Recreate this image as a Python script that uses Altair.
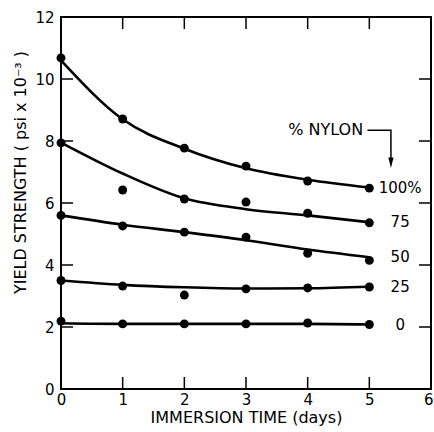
import altair as alt
import pandas as pd

# Immersion time (days) at which specimens were tested
days = [0, 1, 2, 3, 4, 5]

# Nylon content of each series and the label drawn at its right end
series = ["100%", "75", "50", "25", "0"]

# Measured yield strength (psi x 10^-3)
measured = {
    "100%": [10.68, 8.71, 7.77, 7.19, 6.71, 6.48],
    "75": [7.94, 6.42, 6.13, 6.03, 5.67, 5.36],
    "50": [5.60, 5.26, 5.06, 4.90, 4.38, 4.15],
    "25": [3.50, 3.32, 3.03, 3.23, 3.26, 3.29],
    "0": [2.19, 2.10, 2.10, 2.10, 2.13, 2.08],
}

# Smoothed trend curves through each series
trend = {
    "100%": [10.60, 8.70, 7.75, 7.12, 6.75, 6.50],
    "75": [7.95, 6.95, 6.15, 5.80, 5.60, 5.38],
    "50": [5.60, 5.30, 5.06, 4.80, 4.50, 4.25],
    "25": [3.50, 3.36, 3.28, 3.24, 3.25, 3.30],
    "0": [2.12, 2.10, 2.10, 2.10, 2.10, 2.08],
}

# Axis tick values
x_ticks = [0, 1, 2, 3, 4, 5, 6]
y_ticks = [0, 2, 4, 6, 8, 10, 12]
x_inner_ticks = [1, 2, 3, 4, 5]
y_inner_ticks = [2, 4, 6, 8, 10]

# "% NYLON" key with its bent arrow
key_text = "% NYLON"
key_pos = [4.9, 8.35]
arrow_x = [4.97, 5.35, 5.35]
arrow_y = [8.35, 8.35, 7.45]
arrow_tip = [5.35, 7.3]
label_x = 5.5

FONT = "DejaVu Sans"
W, H = 370, 372

pts = pd.DataFrame(
    [{"day": d, "ys": v, "s": s} for s in series for d, v in zip(days, measured[s])]
)
crv = pd.DataFrame(
    [{"day": d, "ys": v, "s": s} for s in series for d, v in zip(days, trend[s])]
)
lab = pd.DataFrame([{"day": label_x, "ys": trend[s][-1], "s": s} for s in series])

xs = alt.Scale(domain=[0, 6], nice=False, zero=False)
ys = alt.Scale(domain=[0, 12], nice=False, zero=False)

x_axis = alt.Axis(
    values=x_ticks, ticks=False, domain=False, grid=False, labelFontSize=15,
    labelPadding=3, labelFont=FONT, labelColor="black", format="d",
    labelFlush=False,
    # keep the last label inside the right edge
    labelAlign=alt.condition("datum.value == 6", alt.value("right"), alt.value("center")),
    labelOffset=alt.condition("datum.value == 6", alt.value(2), alt.value(0)),
    title="IMMERSION TIME (days)", titleFont=FONT, titleFontSize=16,
    titleFontWeight="normal", titlePadding=2, titleColor="black",
)
y_axis = alt.Axis(
    values=y_ticks, ticks=False, domain=False, grid=False, labelFontSize=15,
    labelPadding=7, labelFont=FONT, labelColor="black", format="d",
    labelFlush=False,
    title="YIELD STRENGTH ( psi x 10⁻³ )", titleFont=FONT, titleFontSize=16,
    titleFontWeight="normal", titleColor="black",
    titleX=-41, titleY=155, titleAngle=270, titleAlign="center",
    titleBaseline="middle",
)

curves = alt.Chart(crv).mark_line(
    interpolate="monotone", color="black", strokeWidth=2.6
).encode(
    x=alt.X("day:Q", scale=xs, axis=x_axis),
    y=alt.Y("ys:Q", scale=ys, axis=y_axis),
    detail="s:N",
)

dots = alt.Chart(pts).mark_circle(size=80, color="black", opacity=1).encode(
    x=alt.X("day:Q", scale=xs), y=alt.Y("ys:Q", scale=ys)
)

labels = alt.Chart(lab).mark_text(
    font=FONT, fontSize=15, align="center", baseline="middle", color="black"
).encode(x=alt.X("day:Q", scale=xs), y=alt.Y("ys:Q", scale=ys), text="s:N")

# Inward-pointing tick marks on all four sides of the frame
xt = pd.DataFrame({"v": x_inner_ticks})
yt = pd.DataFrame({"v": y_inner_ticks})
tick_len = 12
top_ticks = alt.Chart(xt).mark_rule(color="black", strokeWidth=1.5).encode(
    x=alt.X("v:Q", scale=xs), y=alt.value(0), y2=alt.value(tick_len)
)
bottom_ticks = alt.Chart(xt).mark_rule(color="black", strokeWidth=1.5).encode(
    x=alt.X("v:Q", scale=xs), y=alt.value(H), y2=alt.value(H - tick_len)
)
left_ticks = alt.Chart(yt).mark_rule(color="black", strokeWidth=1.5).encode(
    y=alt.Y("v:Q", scale=ys), x=alt.value(0), x2=alt.value(tick_len)
)
right_ticks = alt.Chart(yt).mark_rule(color="black", strokeWidth=1.5).encode(
    y=alt.Y("v:Q", scale=ys), x=alt.value(W), x2=alt.value(W - tick_len)
)

key = alt.Chart(pd.DataFrame({"x": [key_pos[0]], "y": [key_pos[1]], "t": [key_text]})).mark_text(
    font=FONT, fontSize=16, align="right", baseline="middle", color="black"
).encode(x=alt.X("x:Q", scale=xs), y=alt.Y("y:Q", scale=ys), text="t:N")

arrow = alt.Chart(pd.DataFrame({"x": arrow_x, "y": arrow_y, "o": [0, 1, 2]})).mark_line(
    color="black", strokeWidth=1.5
).encode(x=alt.X("x:Q", scale=xs), y=alt.Y("y:Q", scale=ys), order="o:Q")

head = alt.Chart(pd.DataFrame({"x": [arrow_tip[0]], "y": [arrow_tip[1]]})).mark_point(
    shape="M-0.5,-1L0.5,-1L0,1Z", size=110, filled=True, color="black", opacity=1
).encode(x=alt.X("x:Q", scale=xs), y=alt.Y("y:Q", scale=ys))

chart = alt.layer(
    curves, dots, labels, top_ticks, bottom_ticks, left_ticks, right_ticks,
    key, arrow, head,
).properties(
    width=W, height=H,
    padding={"left": 61, "top": 17, "right": 3, "bottom": 43},
    autosize=alt.AutoSizeParams(type="none"),
    background="white",
).configure_view(stroke="black", strokeWidth=2)

chart.save("out.html", embed_options={"renderer": "svg", "actions": False})
